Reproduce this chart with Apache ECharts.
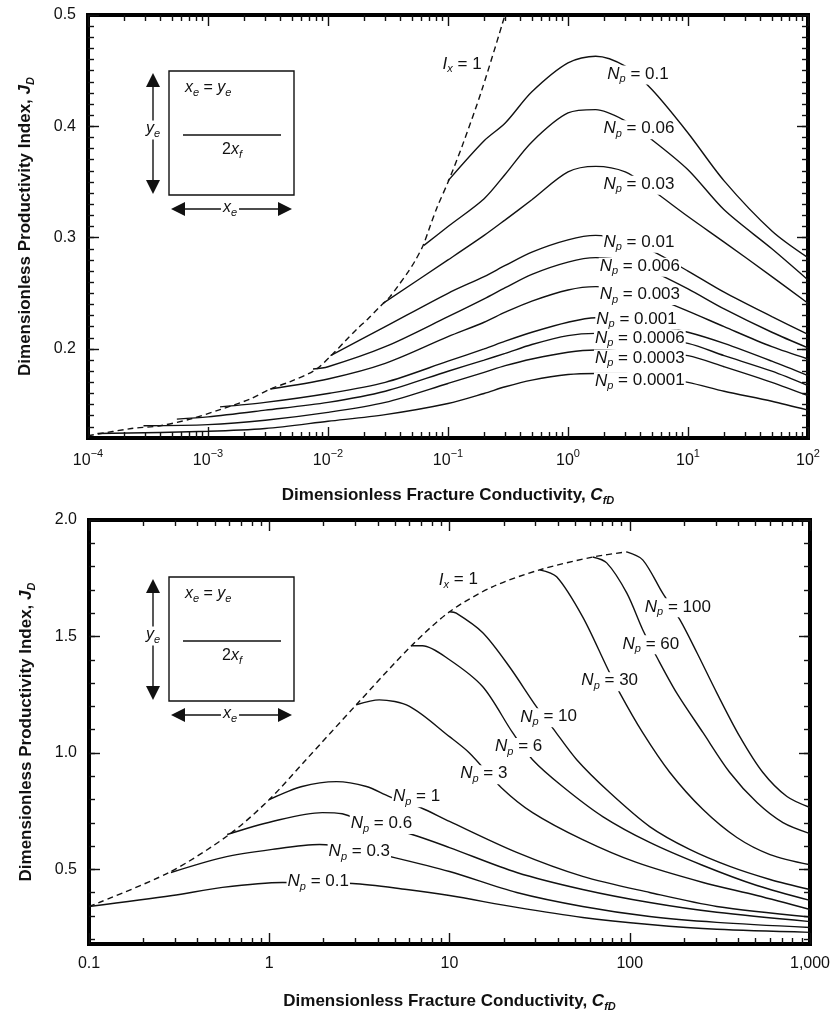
<!DOCTYPE html>
<html>
<head>
<meta charset="utf-8">
<script src="https://cdn.jsdelivr.net/npm/echarts@6.0.0/dist/echarts.min.js"></script>
<style>
  html, body { margin: 0; background: #fff; }
  #chart { width: 834px; height: 1017px; }
</style>
</head>
<body>
<div id="chart"></div>
<script>
// ---- top panel: CfD 1e-4 .. 1e2, JD 0.12 .. 0.5 ----
const tIx1 = [[1e-4, 0.122], [2.3e-4, 0.1285], [4e-4, 0.131], [7.1e-4, 0.137], [1.26e-3, 0.1455], [2.24e-3, 0.155],
  [3.3e-3, 0.164], [4.8e-3, 0.1705], [7.8e-3, 0.181], [0.011, 0.1956], [0.0139, 0.207], [0.0175, 0.218], [0.0215, 0.227],
  [0.0271, 0.238], [0.0329, 0.247], [0.0383, 0.2565], [0.0464, 0.269], [0.0531, 0.279], [0.062, 0.293], [0.0708, 0.31],
  [0.081, 0.327], [0.102, 0.352], [0.133, 0.384], [0.192, 0.433], [0.2985, 0.5]];
const tNp0_1 = [[0.1, 0.351], [0.2, 0.387], [0.3, 0.403], [0.5, 0.431], [1, 0.457], [1.7, 0.463], [3, 0.454], [5, 0.433],
  [10, 0.394], [20, 0.351], [50, 0.306], [100, 0.282]];
const tNp0_06 = [[0.063, 0.293], [0.1, 0.31], [0.2, 0.335], [0.3, 0.357], [0.5, 0.386], [1, 0.412], [1.7, 0.415],
  [3, 0.405], [5, 0.388], [10, 0.361], [20, 0.325], [50, 0.29], [100, 0.262]];
const tNp0_03 = [[0.0287, 0.241], [0.1, 0.28], [0.2, 0.302], [0.3, 0.316], [0.5, 0.334], [1, 0.359], [1.7, 0.364],
  [3, 0.359], [5, 0.343], [10, 0.319], [20, 0.296], [50, 0.265], [100, 0.241]];
const tNp0_01 = [[0.0105, 0.194], [0.03, 0.22], [0.1, 0.25], [0.2, 0.265], [0.3, 0.275], [0.5, 0.287], [1, 0.298],
  [1.7, 0.302], [3, 0.297], [5, 0.288], [10, 0.27], [20, 0.251], [50, 0.229], [100, 0.213]];
const tNp0_006 = [[0.0075, 0.182], [0.01, 0.184], [0.03, 0.202], [0.1, 0.229], [0.2, 0.245], [0.3, 0.255], [0.5, 0.267],
  [1, 0.278], [1.7, 0.282], [3, 0.279], [5, 0.27], [10, 0.254], [20, 0.236], [50, 0.215], [100, 0.201]];
const tNp0_003 = [[0.0033, 0.164], [0.01, 0.173], [0.03, 0.187], [0.1, 0.211], [0.2, 0.224], [0.3, 0.233], [0.5, 0.243],
  [1, 0.253], [1.7, 0.256], [3, 0.254], [5, 0.247], [10, 0.234], [20, 0.22], [50, 0.202], [100, 0.191]];
const tNp0_001 = [[0.00126, 0.148], [0.003, 0.152], [0.01, 0.16], [0.03, 0.17], [0.1, 0.189], [0.2, 0.2], [0.3, 0.207],
  [0.5, 0.215], [1, 0.224], [1.7, 0.228], [3, 0.226], [5, 0.222], [10, 0.215], [20, 0.205], [50, 0.189], [100, 0.176]];
const tNp0_0006 = [[0.00055, 0.137], [0.001, 0.139], [0.003, 0.145], [0.01, 0.152], [0.03, 0.162], [0.1, 0.18],
  [0.2, 0.19], [0.3, 0.196], [0.5, 0.204], [1, 0.212], [1.7, 0.214], [3, 0.213], [5, 0.209], [10, 0.205], [20, 0.194],
  [50, 0.18], [100, 0.167]];
const tNp0_0003 = [[0.00029, 0.131], [0.001, 0.132], [0.003, 0.136], [0.01, 0.143], [0.03, 0.152], [0.1, 0.169],
  [0.2, 0.179], [0.3, 0.185], [0.5, 0.191], [1, 0.197], [1.7, 0.199], [3, 0.198], [5, 0.196], [10, 0.194], [20, 0.184],
  [50, 0.17], [100, 0.158]];
const tNp0_0001 = [[0.00012, 0.124], [0.001, 0.126], [0.003, 0.1285], [0.01, 0.135], [0.03, 0.141], [0.1, 0.151],
  [0.2, 0.16], [0.3, 0.166], [0.5, 0.172], [1, 0.177], [1.7, 0.178], [3, 0.178], [5, 0.175], [10, 0.17], [20, 0.162],
  [50, 0.153], [100, 0.145]];
const tNpLabels = [[3.83, 0.446, '0.1'], [3.9, 0.397, '0.06'], [3.9, 0.347, '0.03'], [3.9, 0.295, '0.01'],
  [3.97, 0.2735, '0.006'], [3.97, 0.248, '0.003'], [3.72, 0.226, '0.001'], [3.97, 0.209, '0.0006'],
  [3.97, 0.191, '0.0003'], [3.97, 0.1705, '0.0001']];
const tIxLabel = [0.131, 0.455];
const tXLabels = [1e-4, 1e-3, 1e-2, 1e-1, 1, 10, 100];
const tYLabels = [0.2, 0.3, 0.4, 0.5];

// ---- bottom panel: CfD 0.1 .. 1000, JD 0.18 .. 2.0 ----
const bIx1 = [[0.1, 0.341], [0.278, 0.487], [0.6, 0.65], [1, 0.8], [1.6, 0.971], [3.04, 1.207], [6.15, 1.46],
  [10, 1.606], [17.3, 1.713], [31.6, 1.786], [62.3, 1.841], [96.2, 1.863]];
const bNp0_1 = [[0.1, 0.341], [0.29, 0.388], [0.55, 0.423], [1.18, 0.444], [2.9, 0.44], [5.8, 0.414], [10, 0.388],
  [23.6, 0.337], [54.8, 0.294], [129, 0.264], [304, 0.243], [1000, 0.23]];
const bNp0_3 = [[0.285, 0.487], [0.55, 0.551], [1.04, 0.586], [1.9, 0.607], [3, 0.588], [4.95, 0.551], [10, 0.491],
  [23.6, 0.401], [54.8, 0.341], [129, 0.298], [304, 0.273], [1000, 0.251]];
const bNp0_6 = [[0.584, 0.65], [1.04, 0.706], [1.97, 0.744], [2.54, 0.739], [3.5, 0.70], [6.2, 0.65], [10, 0.594],
  [23.6, 0.487], [54.8, 0.414], [129, 0.358], [304, 0.316], [1000, 0.276]];
const bNp1 = [[1, 0.8], [1.52, 0.856], [2.36, 0.877], [3.46, 0.856], [4.64, 0.813], [6.9, 0.766], [10, 0.706],
  [23.6, 0.573], [54.8, 0.47], [129, 0.401], [304, 0.341], [1000, 0.296]];
const bNp3 = [[3.04, 1.207], [4.08, 1.228], [6, 1.2], [10, 1.07], [12.9, 1.0], [19.4, 0.851], [28.9, 0.744],
  [54.8, 0.628], [109, 0.53], [255, 0.444], [508, 0.388], [1000, 0.328]];
const bNp6 = [[6.15, 1.46], [7.08, 1.46], [10, 1.4], [15.3, 1.284], [22.4, 1.087], [28.9, 0.971], [42.4, 0.856],
  [70.8, 0.727], [129, 0.616], [255, 0.517], [508, 0.431], [1000, 0.367]];
const bNp10 = [[10, 1.606], [10.9, 1.6], [15.3, 1.516], [21.5, 1.37], [30.4, 1.198], [37.3, 1.108], [50.8, 0.971],
  [77.4, 0.83], [129, 0.684], [215, 0.586], [359, 0.513], [600, 0.457], [1000, 0.414]];
const bNp30 = [[31.6, 1.786], [39.3, 1.756], [54.8, 1.584], [74.5, 1.37], [88, 1.258], [118, 1.087], [167, 0.916],
  [255, 0.757], [393, 0.637], [600, 0.564], [1000, 0.52]];
const bNp60 = [[62.3, 1.841], [74.5, 1.816], [96.2, 1.687], [118, 1.529], [141, 1.413], [182, 1.258], [255, 1.087],
  [359, 0.916], [508, 0.787], [708, 0.701], [1000, 0.654]];
const bNp100 = [[96.2, 1.863], [118, 1.829], [152, 1.687], [190, 1.571], [236, 1.43], [304, 1.258], [408, 1.07],
  [548, 0.916], [745, 0.813], [1000, 0.766]];
const bNpLabels = [[185, 1.623, '100'], [131, 1.464, '60'], [77.4, 1.306, '30'], [35.5, 1.151, '10'],
  [24.2, 1.023, '6'], [15.5, 0.907, '3'], [6.56, 0.808, '1'], [4.19, 0.693, '0.6'], [3.16, 0.573, '0.3'],
  [1.87, 0.444, '0.1']];
const bIxLabel = [11.2, 1.739];
const bXLabels = [0.1, 1, 10, 100, 1000];
const bXText = ['0.1', '1', '10', '100', '1,000'];
const bYLabels = [0.5, 1.0, 1.5, 2.0];

const FONT = '"Liberation Sans", Arial, sans-serif';
const INK = '#111';

function logMinors(decades) {
  const out = [];
  decades.slice(0, -1).forEach(d => {
    for (let k = 2; k <= 9; k++) out.push(+(d * k).toPrecision(3));
  });
  return out;
}
function linTicks(from, to, step) {
  const out = [];
  for (let v = from; v <= to + 1e-9; v += step) out.push(+v.toFixed(3));
  return out;
}

const titleRich = {
  t: { fontSize: 17, fontWeight: 'bold', fontFamily: FONT, color: INK, verticalAlign: 'top' },
  c: { fontSize: 17, fontWeight: 'bold', fontStyle: 'italic', fontFamily: FONT, color: INK, verticalAlign: 'top' },
  s: { fontSize: 11, fontWeight: 'bold', fontStyle: 'italic', fontFamily: FONT, color: INK, verticalAlign: 'top', padding: [8, 0, 0, 0] }
};
const xTitle = '{t|Dimensionless Fracture Conductivity, }{c|C}{s|fD}';
const yTitle = '{t|Dimensionless Productivity Index, }{c|J}{s|D}';

function tick(vals, len) {
  return { show: true, inside: true, length: len, customValues: vals, lineStyle: { color: INK, width: 1.4 } };
}

function xAxes(g, min, max, majors, label) {
  const minors = logMinors(majors);
  const base = { type: 'log', logBase: 10, gridIndex: g, min: min, max: max, axisLine: { show: false }, splitLine: { show: false } };
  return [
    Object.assign({}, base, { position: 'bottom', axisTick: tick(majors, 11), axisLabel: label,
      name: xTitle, nameLocation: 'middle', nameGap: 49, nameTextStyle: { rich: titleRich } }),
    Object.assign({}, base, { position: 'bottom', axisTick: tick(minors, 6), axisLabel: { show: false } }),
    Object.assign({}, base, { position: 'top', axisTick: tick(majors, 11), axisLabel: { show: false } }),
    Object.assign({}, base, { position: 'top', axisTick: tick(minors, 6), axisLabel: { show: false } })
  ];
}

function yAxes(g, min, max, majors, minors) {
  const base = { type: 'value', gridIndex: g, min: min, max: max, axisLine: { show: false }, splitLine: { show: false } };
  const label = { customValues: majors, margin: 12, fontSize: 16, fontFamily: FONT, color: INK, formatter: v => v.toFixed(1) };
  return [
    Object.assign({}, base, { position: 'left', axisTick: tick(majors, 11), axisLabel: label,
      name: yTitle, nameLocation: 'middle', nameGap: 52, nameTextStyle: { rich: titleRich } }),
    Object.assign({}, base, { position: 'left', axisTick: tick(minors, 6), axisLabel: { show: false } }),
    Object.assign({}, base, { position: 'right', axisTick: tick(majors, 11), axisLabel: { show: false } }),
    Object.assign({}, base, { position: 'right', axisTick: tick(minors, 6), axisLabel: { show: false } })
  ];
}

const tickRich = {
  b: { fontSize: 16, fontFamily: FONT, color: INK, verticalAlign: 'top', padding: [5, 0, 0, 0] },
  s: { fontSize: 11, fontFamily: FONT, color: INK, verticalAlign: 'top' }
};
const topXLabel = {
  customValues: tXLabels, margin: 10, rich: tickRich,
  formatter: v => {
    const e = Math.round(Math.log10(v));
    return '{b|10}{s|' + (e < 0 ? '\u2212' + (-e) : e) + '}';
  }
};
const botXLabel = {
  customValues: bXLabels, margin: 12, fontSize: 16, fontFamily: FONT, color: INK,
  formatter: v => {
    const i = bXLabels.findIndex(x => Math.abs(Math.log10(x) - Math.log10(v)) < 1e-6);
    return i < 0 ? '' : bXText[i];
  }
};

function curve(data, g, dashed) {
  return {
    type: 'line', xAxisIndex: g * 4, yAxisIndex: g * 4, data: data,
    showSymbol: false, smooth: 0.3, silent: true, z: 3,
    lineStyle: { color: INK, width: 1.4, type: dashed ? [6, 4] : 'solid' }
  };
}

const plain = { color: INK, fontFamily: FONT, verticalAlign: 'top', textBorderWidth: 0, textShadowBlur: 0 };
const labelRich = {
  n: Object.assign({}, plain, { fontSize: 17, fontStyle: 'italic' }),
  p: Object.assign({}, plain, { fontSize: 11, fontStyle: 'italic', padding: [8, 0, 0, 0] }),
  t: Object.assign({}, plain, { fontSize: 17 })
};

function npLabels(items, g) {
  return {
    type: 'scatter', xAxisIndex: g * 4, yAxisIndex: g * 4, symbolSize: 1, silent: true, z: 6,
    itemStyle: { color: 'rgba(0,0,0,0)' },
    data: items.map(d => ({ value: [d[0], d[1]], name: d[2] })),
    label: {
      show: true, position: 'inside', backgroundColor: '#fff', padding: [0, 1],
      color: INK, textBorderWidth: 0, opacity: 1,
      formatter: p => '{n|N}{p|p}{t| = ' + p.name + '}', rich: labelRich
    }
  };
}

function ixLabel(pt, g) {
  return {
    type: 'scatter', xAxisIndex: g * 4, yAxisIndex: g * 4, symbolSize: 1, silent: true, z: 6,
    itemStyle: { color: 'rgba(0,0,0,0)' },
    data: [pt],
    label: {
      show: true, position: 'inside', backgroundColor: '#fff', padding: 0,
      color: INK, textBorderWidth: 0, opacity: 1,
      formatter: '{n|I}{p|x}{t| = 1}', rich: labelRich
    }
  };
}

// little schematic of the drainage square
const insetRich = {
  i: { fontSize: 16, fontStyle: 'italic', fontFamily: FONT, fill: INK, verticalAlign: 'top' },
  e: { fontSize: 11, fontStyle: 'italic', fontFamily: FONT, fill: INK, verticalAlign: 'top', padding: [8, 0, 0, 0] },
  r: { fontSize: 16, fontFamily: FONT, fill: INK, verticalAlign: 'top' }
};
function inset(T) {
  const B = T + 124;
  const st = { stroke: INK, lineWidth: 1.4, fill: 'none' };
  const txt = (x, y, s, bg, align) => ({
    type: 'text', z: 10, style: { x: x, y: y, text: s, rich: insetRich, align: align || 'center',
      verticalAlign: 'middle', backgroundColor: bg ? '#fff' : null, padding: bg ? [0, 2] : 0 }
  });
  return [
    { type: 'rect', z: 10, shape: { x: 169, y: T, width: 125, height: B - T }, style: st },
    { type: 'line', z: 10, shape: { x1: 183, y1: T + 64, x2: 281, y2: T + 64 }, style: st },
    { type: 'line', z: 10, shape: { x1: 153, y1: T + 10, x2: 153, y2: B - 10 }, style: st },
    { type: 'polygon', z: 10, shape: { points: [[153, T + 2], [146, T + 16], [160, T + 16]] }, style: { fill: INK } },
    { type: 'polygon', z: 10, shape: { points: [[153, B - 1], [146, B - 15], [160, B - 15]] }, style: { fill: INK } },
    { type: 'line', z: 10, shape: { x1: 178, y1: B + 14, x2: 285, y2: B + 14 }, style: st },
    { type: 'polygon', z: 10, shape: { points: [[171, B + 14], [185, B + 7], [185, B + 21]] }, style: { fill: INK } },
    { type: 'polygon', z: 10, shape: { points: [[292, B + 14], [278, B + 7], [278, B + 21]] }, style: { fill: INK } },
    txt(153, T + 59, '{i|y}{e|e}', true),
    txt(230, B + 14, '{i|x}{e|e}', true),
    txt(185, T + 18, '{i|x}{e|e}{r| = }{i|y}{e|e}', false, 'left'),
    txt(232, T + 80, '{r|2}{i|x}{e|f}', false)
  ];
}

const chart = echarts.init(document.getElementById('chart'));
chart.setOption({
  animation: false,
  backgroundColor: '#fff',
  grid: [
    { left: 88, top: 15, width: 720, height: 423, show: true, borderColor: '#000', borderWidth: 4, backgroundColor: 'transparent' },
    { left: 89, top: 520, width: 721, height: 424, show: true, borderColor: '#000', borderWidth: 4, backgroundColor: 'transparent' }
  ],
  xAxis: [].concat(
    xAxes(0, 1e-4, 100, tXLabels, topXLabel),
    xAxes(1, 0.1, 1000, bXLabels, botXLabel)
  ),
  yAxis: [].concat(
    yAxes(0, 0.12, 0.5, tYLabels, linTicks(0.13, 0.5, 0.01)),
    yAxes(1, 0.18, 2.0, bYLabels, linTicks(0.2, 2.0, 0.1))
  ),
  graphic: inset(71).concat(inset(577)),
  series: [
    curve(tIx1, 0, true),
    curve(tNp0_1, 0), curve(tNp0_06, 0), curve(tNp0_03, 0), curve(tNp0_01, 0), curve(tNp0_006, 0),
    curve(tNp0_003, 0), curve(tNp0_001, 0), curve(tNp0_0006, 0), curve(tNp0_0003, 0), curve(tNp0_0001, 0),
    npLabels(tNpLabels, 0), ixLabel(tIxLabel, 0),
    curve(bIx1, 1, true),
    curve(bNp0_1, 1), curve(bNp0_3, 1), curve(bNp0_6, 1), curve(bNp1, 1), curve(bNp3, 1),
    curve(bNp6, 1), curve(bNp10, 1), curve(bNp30, 1), curve(bNp60, 1), curve(bNp100, 1),
    npLabels(bNpLabels, 1), ixLabel(bIxLabel, 1)
  ]
});
</script>
</body>
</html>
